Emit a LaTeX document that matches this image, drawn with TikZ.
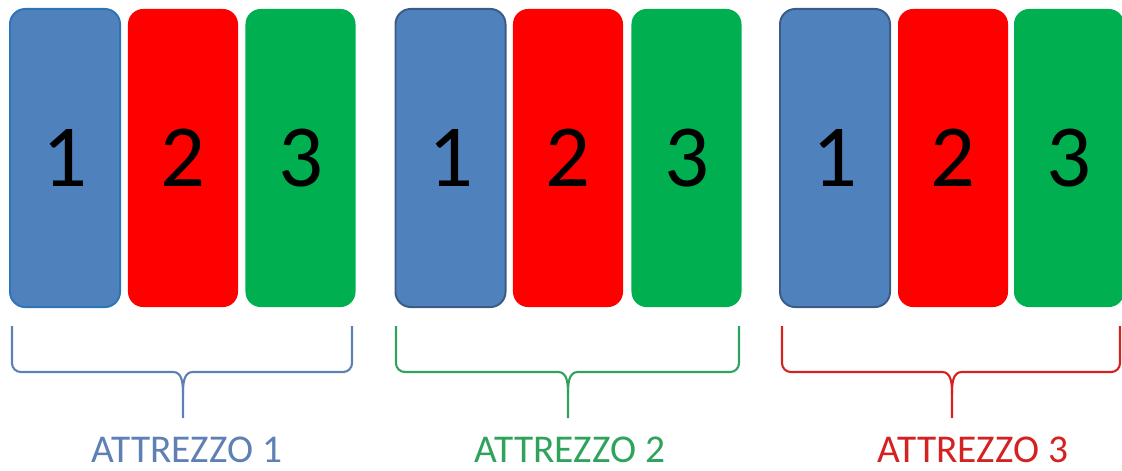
\documentclass[tikz,border=0pt]{standalone}
\usepackage{fontspec}
\setmainfont{Carlito}
\usetikzlibrary{positioning}

\definecolor{slotblue}{HTML}{4F81BD}
\definecolor{slotred}{HTML}{FF0000}
\definecolor{slotgreen}{HTML}{00B050}
\definecolor{rimlight}{HTML}{2E75B6}
\definecolor{rimdark}{HTML}{3B5C86}
\definecolor{toolA}{HTML}{5E80B4}
\definecolor{toolB}{HTML}{2FA35C}
\definecolor{toolC}{HTML}{D42222}

\begin{document}
\begin{tikzpicture}[x=0.025cm,y=-0.025cm,
    slot/.style={rectangle,rounded corners=0.38cm,minimum width=2.75cm,minimum height=7.45cm,inner sep=0pt,font=\fontsize{63}{63}\selectfont},
    brace/.style={line width=1.5pt},
    tag/.style={anchor=base,font=\fontsize{28}{28}\selectfont}]
\useasboundingbox (0,0) rectangle (1122,470);
% attrezzo 1
\node[slot,fill=slotblue,draw=rimlight,line width=1.4pt] (a1) at (65,158) {1};
\node[slot,fill=slotred] (a2) at (183,158) {2};
\node[slot,fill=slotgreen] (a3) at (300.5,158) {3};
% attrezzo 2
\node[slot,fill=slotblue,draw=rimdark,line width=1.4pt] (b1) at (450.5,158) {1};
\node[slot,fill=slotred] (b2) at (568,158) {2};
\node[slot,fill=slotgreen] (b3) at (686.5,158) {3};
% attrezzo 3
\node[slot,fill=slotblue,draw=rimdark,line width=1.4pt] (c1) at (835,158) {1};
\node[slot,fill=slotred] (c2) at (953,158) {2};
\node[slot,fill=slotgreen] (c3) at (1069,158) {3};
% graffe
\draw[brace,toolA] (12,326) [rounded corners=0.22cm] -- (12,372) [sharp corners] -- (173,372) .. controls (181,372) and (183,380) .. (183,393) -- (183,418);
\draw[brace,toolA] (352,326) [rounded corners=0.22cm] -- (352,372) [sharp corners] -- (193,372) .. controls (185,372) and (183,380) .. (183,393);
\draw[brace,toolB] (396,326) [rounded corners=0.22cm] -- (396,372) [sharp corners] -- (558,372) .. controls (566,372) and (568,380) .. (568,393) -- (568,418);
\draw[brace,toolB] (739,326) [rounded corners=0.22cm] -- (739,372) [sharp corners] -- (578,372) .. controls (570,372) and (568,380) .. (568,393);
\draw[brace,toolC] (782,326) [rounded corners=0.22cm] -- (782,372) [sharp corners] -- (942,372) .. controls (950,372) and (952,380) .. (952,393) -- (952,418);
\draw[brace,toolC] (1120,326) [rounded corners=0.22cm] -- (1120,372) [sharp corners] -- (962,372) .. controls (954,372) and (952,380) .. (952,393);
% etichette
\node[tag,text=toolA] (t1) at (187,462) {ATTREZZO 1};
\node[tag,text=toolB] (t2) at (570,462) {ATTREZZO 2};
\node[tag,text=toolC] (t3) at (973,462) {ATTREZZO 3};
\end{tikzpicture}
\end{document}
